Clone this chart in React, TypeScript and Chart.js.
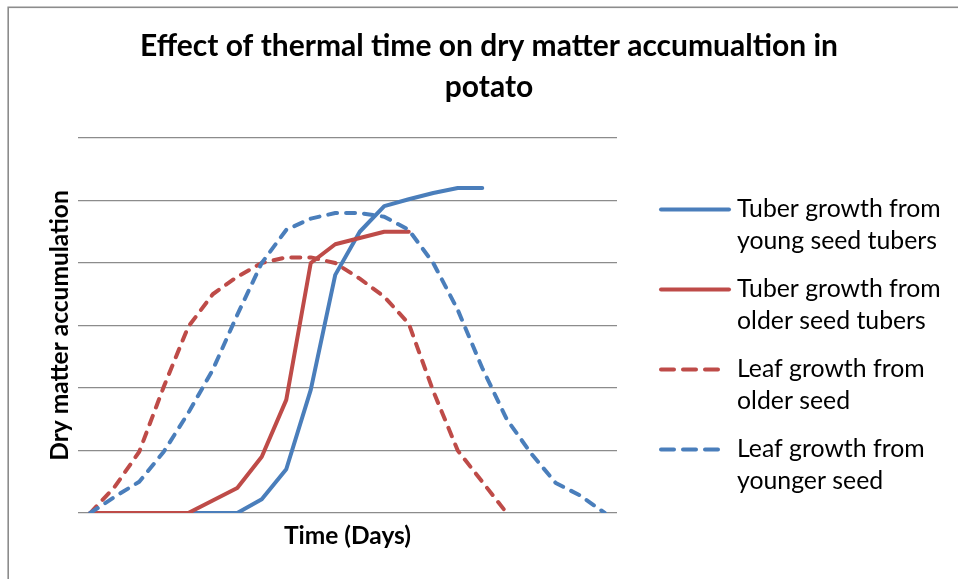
import React, { useEffect, useRef } from "react";
import { Chart, registerables } from "chart.js";

Chart.register(...registerables);

// ---- data ----
const days = ["1", "2", "3", "4", "5", "6", "7", "8", "9", "10", "11", "12", "13", "14", "15", "16", "17", "18", "19", "20", "21", "22"];

const tuberYoung = [0, 0, 0, 0, 0, 0, 0, 0.22, 0.7, 1.97, 3.81, 4.5, 4.91, 5.02, 5.12, 5.2, 5.2, null, null, null, null, null];
const tuberOlder = [0, 0, 0, 0, 0, 0.2, 0.4, 0.9, 1.81, 4.0, 4.3, 4.4, 4.5, 4.5, null, null, null, null, null, null, null, null];
const leafOlder = [0, 0.42, 0.98, 2.02, 2.98, 3.5, 3.78, 4.0, 4.09, 4.09, 4.0, 3.75, 3.46, 3.03, 1.95, 1.0, 0.5, 0, null, null, null, null];
const leafYounger = [0, 0.26, 0.5, 0.98, 1.6, 2.29, 3.17, 4.0, 4.53, 4.71, 4.8, 4.8, 4.74, 4.53, 4.0, 3.25, 2.32, 1.5, 0.95, 0.48, 0.28, 0];

const seriesNames = [
  ["Tuber growth from", "young seed tubers"],
  ["Tuber growth from", "older seed tubers"],
  ["Leaf growth from", "older seed"],
  ["Leaf growth from", "younger seed"],
];

const titleLines = ["Effect of thermal time on dry matter accumualtion in", "potato"];
const xTitle = "Time (Days)";
const yTitle = "Dry matter accumulation";

const BLUE = "#4a7ebb";
const RED = "#be4b48";
const FONT = "Lato, 'Open Sans', sans-serif";

const seriesStyles = [
  { color: BLUE, dashed: false },
  { color: RED, dashed: false },
  { color: RED, dashed: true },
  { color: BLUE, dashed: true },
];

const frameAndLegend = {
  id: "frameAndLegend",
  beforeDraw(chart: any) {
    const ctx = chart.ctx;
    ctx.save();
    ctx.fillStyle = "#ffffff";
    ctx.fillRect(0, 0, chart.width, chart.height);
    ctx.strokeStyle = "#8c8c8c";
    ctx.lineWidth = 1.6;
    ctx.strokeRect(8.2, 7.3, 1400, 1400);
    ctx.restore();
  },
  afterDraw(chart: any) {
    const ctx = chart.ctx;
    ctx.save();
    const x0 = 661;
    const x1 = 729;
    const firstY = 209.5;
    const step = 80;
    seriesNames.forEach((lines, i) => {
      const st = seriesStyles[i];
      const y = firstY + i * step;
      ctx.beginPath();
      ctx.strokeStyle = st.color;
      ctx.lineWidth = 4;
      ctx.lineCap = "round";
      ctx.setLineDash(st.dashed ? [13, 9] : []);
      ctx.moveTo(x0, y);
      ctx.lineTo(st.dashed ? 721 : x1, y);
      ctx.stroke();
      ctx.setLineDash([]);
      ctx.fillStyle = "#000000";
      ctx.font = `24.8px ${FONT}`;
      ctx.textBaseline = "alphabetic";
      ctx.textAlign = "left";
      ctx.fillText(lines[0], 737, y + 7);
      ctx.fillText(lines[1], 737, y + 39);
    });
    ctx.restore();
  },
};

export default function App() {
  const canvasRef = useRef<HTMLCanvasElement | null>(null);

  useEffect(() => {
    const canvas = canvasRef.current;
    if (!canvas) return;
    const data = [tuberYoung, tuberOlder, leafOlder, leafYounger];
    const chart = new Chart(canvas, {
      type: "line",
      data: {
        labels: days,
        datasets: data.map((values, i) => ({
          label: seriesNames[i].join(" "),
          data: values,
          borderColor: seriesStyles[i].color,
          backgroundColor: seriesStyles[i].color,
          borderWidth: 4,
          borderDash: seriesStyles[i].dashed ? [9, 9] : [],
          borderCapStyle: "round",
          borderJoinStyle: "round",
          pointRadius: 0,
          pointHoverRadius: 0,
          tension: 0,
          fill: false,
          order: 4 - i,
          yAxisID: "y",
        })),
      },
      options: {
        responsive: false,
        animation: false,
        devicePixelRatio: 1,
        layout: { padding: { left: 20, right: 0, top: 0, bottom: 0 } },
        plugins: {
          legend: { display: false },
          tooltip: { enabled: false },
          title: {
            display: true,
            text: titleLines,
            color: "#000000",
            font: { family: FONT, size: 30, weight: "bold", lineHeight: 1.37 },
            padding: { top: 26, bottom: 29.8 },
          },
        },
        scales: {
          x: {
            type: "category",
            offset: true,
            grid: { display: false, drawTicks: false },
            border: { display: false },
            ticks: { display: false },
            title: {
              display: true,
              text: xTitle,
              color: "#000000",
              font: { family: FONT, size: 24.5, weight: "bold", lineHeight: 1.2 },
              padding: { top: 8.3, bottom: 28.3 },
            },
            afterFit(scale: any) {
              scale.height = 66;
            },
          },
          y: {
            type: "linear",
            position: "left",
            min: 0,
            max: 6,
            ticks: { display: false, stepSize: 1 },
            grid: { color: "#8c8c8c", lineWidth: 1.3, drawTicks: false },
            border: { display: false },
            title: {
              display: true,
              text: yTitle,
              color: "#000000",
              font: { family: FONT, size: 24.5, weight: "bold", lineHeight: 1.2 },
              padding: { top: 25.3, bottom: 3.3 },
            },
            afterFit(scale: any) {
              scale.width = 58;
            },
          },
          y2: {
            type: "linear",
            position: "right",
            display: true,
            min: 0,
            max: 6,
            ticks: { display: false },
            grid: { display: false, drawTicks: false },
            border: { display: false },
            afterFit(scale: any) {
              scale.width = 341;
            },
          },
        },
      } as any,
      plugins: [frameAndLegend],
    });

    const fonts: any = (document as any).fonts;
    if (fonts && fonts.load) {
      Promise.all([fonts.load(`bold 30px Lato`), fonts.load(`25px Lato`)])
        .then(() => chart.update())
        .catch(() => {});
    }

    return () => {
      chart.destroy();
    };
  }, []);

  return (
    <div style={{ position: "absolute", left: 0, top: 0, width: 958, height: 579, background: "#fff" }}>
      <canvas ref={canvasRef} width={958} height={579} style={{ display: "block" }} />
    </div>
  );
}
